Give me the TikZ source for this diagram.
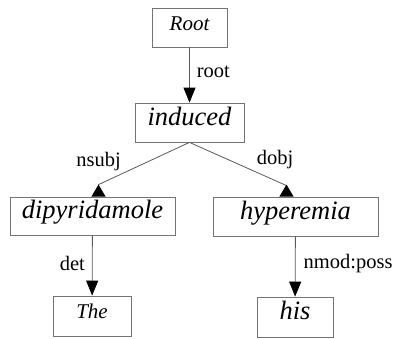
\documentclass[tikz,border=0pt]{standalone}
\usepackage{fontspec}
\setmainfont{Liberation Serif}
\usetikzlibrary{arrows.meta}
\tikzstyle{wordbox} = [rectangle, draw=black!55, line width=0.8pt, minimum height=39pt, inner sep=0pt, text height=0.68em, text depth=0.1em, font=\fontsize{26.5}{30}\selectfont\itshape]
\tikzstyle{smallbox} = [wordbox, font=\fontsize{21}{25}\selectfont\itshape]
\tikzstyle{deplabel} = [inner sep=0pt, font=\fontsize{20.5}{24}\selectfont]
\tikzstyle{downarrow} = [draw=black!65, line width=0.8pt, -{Triangle[length=15pt,width=12pt,color=black]}]
\tikzstyle{uparrow} = [draw=black!65, line width=0.8pt, -{Triangle[reversed,length=12pt,width=14pt,color=black]}]

\begin{document}
\begin{tikzpicture}[x=1pt, y=-1pt]
      \useasboundingbox (0,0) rectangle (396,338);

      \node (root) [smallbox, minimum width=75pt] at (189.5,27.5) {Root};
      \node (induced) [wordbox, minimum width=109pt] at (189.5,122.5) {induced};
      \node (dipy) [wordbox, minimum width=165pt, minimum height=38pt] at (92.5,216) {dipyridamole};
      \node (hyper) [wordbox, minimum width=165pt] at (295.5,216.5) {hyperemia};
      \node (the) [smallbox, minimum width=78pt, minimum height=40pt] at (92,316) {The};
      \node (his) [wordbox, minimum width=76pt, minimum height=40pt] at (295,317) {his};

      \draw [downarrow] (root) -- node[deplabel, anchor=west, xshift=7pt, yshift=3pt] {root} (induced);

      \draw [uparrow] (induced.south) -- node[deplabel, pos=0.75, anchor=south east, yshift=3pt] {nsubj} ([shift={(6pt,12pt)}]dipy.north) -- ([xshift=6pt]dipy.north);
      \draw [uparrow] (induced.south) -- node[deplabel, pos=0.69, anchor=south west, yshift=3pt] {dobj} ([shift={(-9pt,11pt)}]hyper.north) -- ([xshift=-9pt]hyper.north);

      \draw [downarrow] (dipy) -- node[deplabel, anchor=east, xshift=-7pt, yshift=2pt] {det} (the);
      \draw [downarrow] (hyper) -- node[deplabel, anchor=west, xshift=8pt, yshift=3pt] {nmod:poss} (his);
\end{tikzpicture}
\end{document}
